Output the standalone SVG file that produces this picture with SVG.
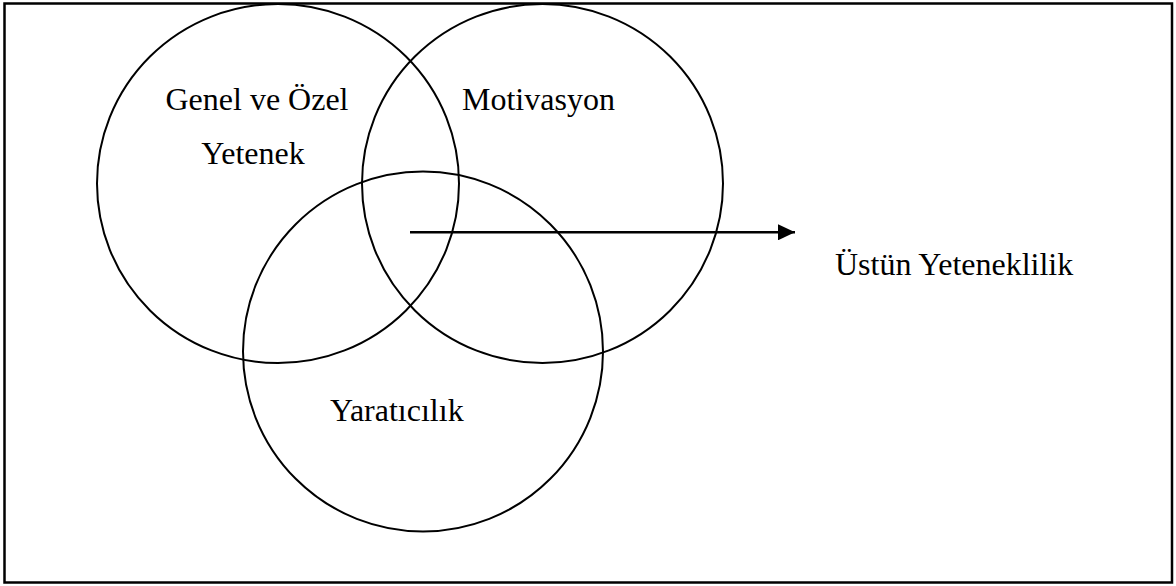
<svg xmlns="http://www.w3.org/2000/svg" width="1176" height="586" viewBox="0 0 1176 586">
<defs>
<style>
.c{fill:none;stroke:#000;stroke-width:2}
.t{font-family:"Liberation Serif","Times New Roman",serif;font-size:32px;fill:#000}
</style>
<marker id="ah" markerWidth="17" markerHeight="16" refX="17" refY="8" orient="auto" markerUnits="userSpaceOnUse">
<path d="M0,0 L17,8 L0,16 Z" fill="#000"/>
</marker>
</defs>
<rect x="4.5" y="3.5" width="1167.5" height="579" fill="#fff" stroke="#000" stroke-width="2.5"/>
<g id="genel">
<ellipse class="c" cx="278" cy="183.5" rx="181" ry="179.5"/>
<text class="t" x="257" y="110" text-anchor="middle">Genel ve Özel</text>
<text class="t" x="253" y="164" text-anchor="middle">Yetenek</text>
</g>
<g id="motivasyon">
<ellipse class="c" cx="542.5" cy="183.5" rx="180.5" ry="179.5"/>
<text class="t" x="462" y="110">Motivasyon</text>
</g>
<g id="yaraticilik">
<ellipse class="c" cx="423" cy="351.5" rx="180" ry="180"/>
<text class="t" x="330" y="421">Yaratıcılık</text>
</g>
<g id="ustun">
<text class="t" x="835" y="275">Üstün Yeteneklilik</text>
</g>
<g id="connectors">
<line x1="410" y1="232.3" x2="795" y2="232.3" stroke="#000" stroke-width="2.5" marker-end="url(#ah)"/>
</g>
</svg>
